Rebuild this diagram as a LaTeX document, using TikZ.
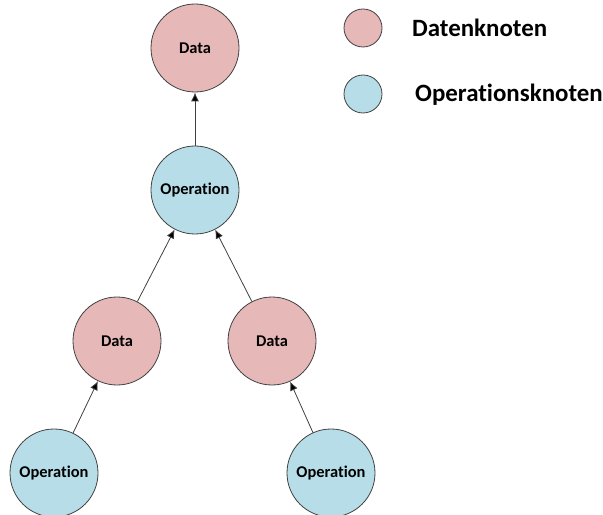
\documentclass[tikz,border=0pt]{standalone}
\usepackage{fontspec}
\setmainfont[Ligatures=NoCommon]{Carlito}
\usetikzlibrary{arrows.meta}
\definecolor{datafill}{HTML}{E6B8B7}
\definecolor{opfill}{HTML}{B7DEE8}
\definecolor{edgegray}{HTML}{404040}
\tikzset{
  datanode/.style={circle, draw=edgegray, line width=0.8bp, fill=datafill, minimum size=88bp, inner sep=0pt, font=\fontsize{16.5}{19}\selectfont\bfseries},
  opnode/.style={circle, draw=edgegray, line width=0.8bp, fill=opfill, minimum size=88bp, inner sep=0pt, font=\fontsize{16.5}{19}\selectfont\bfseries},
  legdata/.style={circle, draw=edgegray, line width=0.8bp, fill=datafill, minimum size=38bp, inner sep=0pt},
  legop/.style={circle, draw=edgegray, line width=0.8bp, fill=opfill, minimum size=38bp, inner sep=0pt},
  legtext/.style={anchor=west, inner sep=0pt, font=\fontsize{25}{30}\selectfont\bfseries},
  conn/.style={draw=edgegray, line width=0.8bp, -{Latex[length=9bp,width=8bp,fill=black]}}
}
\begin{document}
\begin{tikzpicture}[x=1bp,y=-1bp]
\useasboundingbox (0,0) rectangle (603,515);
\node[datanode] (d0) at (195,48) {Data};
\node[opnode] (o0) at (195,190) {Operation};
\node[datanode] (dl) at (117,341) {Data};
\node[datanode] (dr) at (272,341) {Data};
\node[opnode] (ol) at (54,473) {Operation};
\node[opnode] (or) at (331,473) {Operation};
\node[legdata] (ld) at (363,28) {};
\node[legop] (lo) at (363,94) {};
\node[legtext] (tld) at (412,28) {Datenknoten};
\node[legtext] (tlo) at (415,95) {Operationsknoten};
\draw[conn] (o0) -- (d0);
\draw[conn] (dl) -- (o0);
\draw[conn] (dr) -- (o0);
\draw[conn] (ol) -- (dl);
\draw[conn] (or) -- (dr);
\end{tikzpicture}
\end{document}
